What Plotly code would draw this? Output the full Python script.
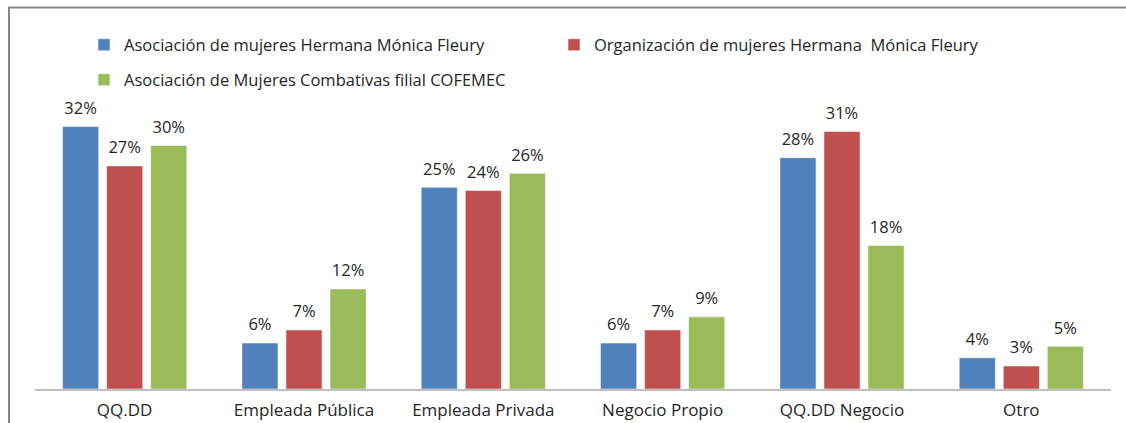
import plotly.graph_objects as go

categories = ["QQ.DD", "Empleada Pública", "Empleada Privada", "Negocio Propio", "QQ.DD Negocio", "Otro"]
series_names = [
    "Asociación de mujeres Hermana Mónica Fleury",
    "Organización de mujeres Hermana  Mónica Fleury",
    "Asociación de Mujeres Combativas filial COFEMEC",
]
asoc_fleury = [32.0, 5.6, 24.6, 5.6, 28.2, 3.8]
org_fleury = [27.2, 7.2, 24.2, 7.2, 31.4, 2.8]
cofemec = [29.7, 12.2, 26.3, 8.8, 17.5, 5.2]
colors = ["#4F81BD", "#C0504D", "#9BBB59"]

W, H = 1126, 423
ML, MR, MT, MB = 35, 15, 102, 34
plot_w = W - ML - MR
plot_h = H - MT - MB

def px_x(p):
    return (p - ML) / plot_w

def px_y(p):
    return (H - MB - p) / plot_h

FONT = "Open Sans"
TXT = "#262626"
legends = ["legend", "legend2", "legend3"]
fig = go.Figure()
for i, (name, vals) in enumerate(zip(series_names, [asoc_fleury, org_fleury, cofemec])):
    fig.add_trace(go.Bar(
        x=categories, y=vals, name=name,
        marker=dict(color=colors[i], line=dict(color="rgba(255,255,255,0.5)", width=1)),
        offsetgroup=str(i), alignmentgroup="a",
        legend=legends[i],
    ))
for i, vals in enumerate([asoc_fleury, org_fleury, cofemec]):
    fig.add_trace(go.Scatter(
        x=categories, y=vals, mode="markers+text",
        marker=dict(size=12, color="rgba(0,0,0,0)"),
        text=[f"{round(v + 1e-9):d}%" for v in vals], textposition="top center",
        textfont=dict(family=FONT, size=16.5, color=TXT),
        offsetgroup=str(i), alignmentgroup="a",
        cliponaxis=False, showlegend=False, hoverinfo="skip",
    ))

leg_common = dict(orientation="h", xanchor="left", yanchor="middle",
                  font=dict(family=FONT, size=16.5, color=TXT), bgcolor="rgba(0,0,0,0)")
fig.update_layout(
    width=W, height=H,
    margin=dict(l=ML, r=MR, t=MT, b=MB),
    paper_bgcolor="white", plot_bgcolor="white",
    barmode="group", bargap=0.263, bargroupgap=0.18,
    scattermode="group", scattergap=0.263,
    font=dict(family=FONT, size=16, color=TXT),
    showlegend=True,
    legend=dict(x=px_x(84), y=px_y(45), **leg_common),
    legend2=dict(x=px_x(554), y=px_y(45), **leg_common),
    legend3=dict(x=px_x(84), y=px_y(80), **leg_common),
    xaxis=dict(showline=True, linecolor="#BFBFBF", linewidth=2, ticks="",
               tickfont=dict(family=FONT, size=17, color=TXT), showgrid=False,
               ticklabelstandoff=5, automargin=False),
    yaxis=dict(range=[0, 35], visible=False, showgrid=False, automargin=False),
    shapes=[
        dict(type="line", xref="paper", yref="paper", x0=px_x(8), x1=px_x(1126),
             y0=px_y(7.5), y1=px_y(7.5), line=dict(color="#878787", width=2)),
        dict(type="line", xref="paper", yref="paper", x0=px_x(9), x1=px_x(9),
             y0=px_y(7), y1=px_y(423), line=dict(color="#878787", width=2)),
    ],
)
fig.write_html("out.html", config={"displayModeBar": False},
               post_script="document.body.style.margin='0';")
